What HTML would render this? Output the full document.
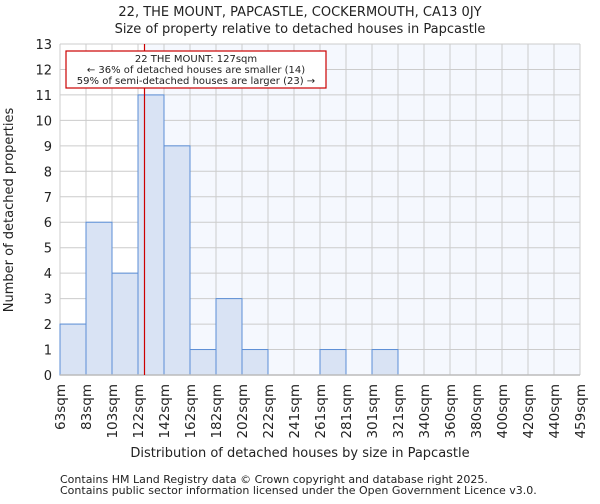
<!DOCTYPE html>
<html><head><meta charset="utf-8"><style>
body{margin:0;background:#fff;font-family:"DejaVu Sans","Liberation Sans",sans-serif;}
svg text{font-family:"DejaVu Sans","Liberation Sans",sans-serif;fill:#222;}
</style></head><body>
<svg id="c" width="600" height="500" xmlns="http://www.w3.org/2000/svg">
<text x="300" y="16" text-anchor="middle" font-size="13">22, THE MOUNT, PAPCASTLE, COCKERMOUTH, CA13 0JY</text>
<text x="300" y="33" text-anchor="middle" font-size="13">Size of property relative to detached houses in Papcastle</text>
<g id="plot"></g>
<text x="300" y="457" text-anchor="middle" font-size="13">Distribution of detached houses by size in Papcastle</text>
<text transform="translate(13,210) rotate(-90)" text-anchor="middle" font-size="13">Number of detached properties</text>
<text x="60" y="483" font-size="11">Contains HM Land Registry data © Crown copyright and database right 2025.</text>
<text x="60" y="494" font-size="11">Contains public sector information licensed under the Open Government Licence v3.0.</text>
</svg>
<script>
const binLabels=["63sqm","83sqm","103sqm","122sqm","142sqm","162sqm","182sqm","202sqm","222sqm","241sqm","261sqm","281sqm","301sqm","321sqm","340sqm","360sqm","380sqm","400sqm","420sqm","440sqm","459sqm"];
const counts=[2,6,4,11,9,1,3,1,0,0,1,0,1,0,0,0,0,0,0,0];
const yTicks=[0,1,2,3,4,5,6,7,8,9,10,11,12,13];
const markerBin=3.25; // 127sqm within 122-142 bin
const NS="http://www.w3.org/2000/svg";
const X0=60,X1=580,Y0=375,Y1=44,YMAX=13;
const nb=counts.length,bw=(X1-X0)/nb;
const xs=i=>X0+i*bw;
const ys=v=>Y0-(v/YMAX)*(Y0-Y1);
const g=document.getElementById('plot');
function mk(t,a){const e=document.createElementNS(NS,t);for(const k in a)e.setAttribute(k,a[k]);g.appendChild(e);return e;}
const mx=xs(markerBin);
let e=mk('rect',{x:mx,y:Y1,width:X1-mx,height:Y0-Y1,fill:'#f5f8fe'});


yTicks.forEach(v=>{
 let l=mk('line',{x1:X0,x2:X1,y1:ys(v),y2:ys(v),stroke:'#cccccc','stroke-width':1});
 
 
 let t=mk('text',{x:X0-8,y:ys(v)+5,'text-anchor':'end','font-size':13});
 t.textContent=v;
 
 
});
binLabels.forEach((s,i)=>{
 let l=mk('line',{x1:xs(i),x2:xs(i),y1:Y1,y2:Y0,stroke:'#cccccc','stroke-width':1});
 
 
 let t=mk('text',{transform:`translate(${xs(i)+5},${Y0+9}) rotate(-90)`,'text-anchor':'end','font-size':13.5});
 t.textContent=s;
 
 
});
counts.forEach((c,i)=>{
 if(c<=0)return;
 let r=mk('rect',{x:xs(i),y:ys(c),width:bw,height:Y0-ys(c),fill:'#d9e3f4',stroke:'#5b8ed6','stroke-width':1});
 
 
});
let ax=mk('line',{x1:X0,x2:X1,y1:Y0,y2:Y0,stroke:'#bbbbbb','stroke-width':1.5});


let rl=mk('line',{x1:mx,x2:mx,y1:Y1,y2:Y0,stroke:'#cc0000','stroke-width':1.2});


let bx=mk('rect',{x:66,y:51,width:260,height:37,fill:'#fff',stroke:'#cc0000','stroke-width':1.2});


["22 THE MOUNT: 127sqm","← 36% of detached houses are smaller (14)","59% of semi-detached houses are larger (23) →"].forEach((s,i)=>{
 let t=mk('text',{x:196,y:62+i*11,'text-anchor':'middle','font-size':10});
 t.textContent=s;
 
 
});
</script>
</body></html>
